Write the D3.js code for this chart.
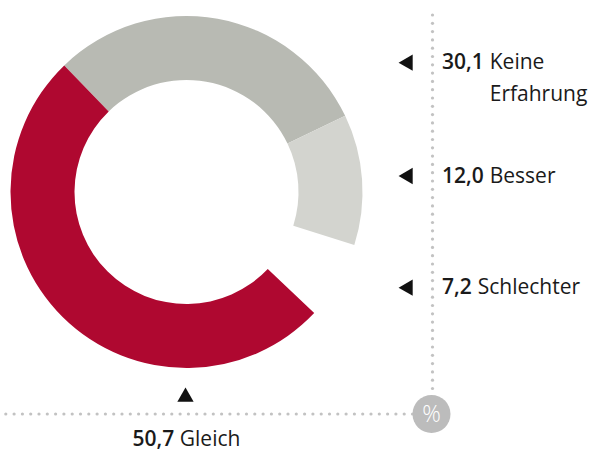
<!DOCTYPE html>
<html>
<head>
<meta charset="utf-8">
<script src="https://cdn.jsdelivr.net/npm/d3@7"></script>
<style>
  body { margin: 0; background: #fff; }
  svg { display: block; font-family: "Open Sans", sans-serif; }
</style>
</head>
<body>
<div id="graphic"></div>
<script>
// data
const categories = ["Keine Erfahrung", "Besser", "Schlechter", "Gleich"];
const values = [30.1, 12.0, 7.2, 50.7];
const valueLabels = ["30,1", "12,0", "7,2", "50,7"];
const labelLines = [["Keine", "Erfahrung"], ["Besser"], ["Schlechter"], ["Gleich"]];
const unitLabel = "%";

const colours = {
    "Keine Erfahrung": "#b8bab3",
    "Besser": "#d3d4cf",
    "Schlechter": "none",
    "Gleich": "#af0830"
};

const width = 592, height = 452;
const cx = 186.5, cy = 192;
const outerR = 176, innerR = 112;
const startDeg = -44;

const svg = d3.select('#graphic').append('svg')
    .attr('width', width)
    .attr('height', height);

const pie = d3.pie()
    .sort(null)
    .value((d) => d.value)
    .startAngle(startDeg * Math.PI / 180)
    .endAngle(startDeg * Math.PI / 180 + 2 * Math.PI);

const arc = d3.arc().innerRadius(innerR).outerRadius(outerR);

const data = categories.map((c, i) => ({ name: c, value: values[i], label: valueLabels[i], lines: labelLines[i] }));

svg.append('g')
    .attr('transform', `translate(${cx},${cy})`)
    .selectAll('path')
    .data(pie(data))
    .join('path')
    .attr('d', arc)
    .attr('fill', (d) => colours[d.data.name]);

// dotted axis lines
const axisX = 432.5, axisY = 414;
const dotGap = 8.3;
const dots = svg.append('g').attr('fill', '#c2c2c2');
dots.selectAll('circle.v')
    .data(d3.range(15, axisY - 18, dotGap))
    .join('circle')
    .attr('class', 'v')
    .attr('cx', axisX)
    .attr('cy', (d) => d)
    .attr('r', 1.6);
dots.selectAll('circle.h')
    .data(d3.range(axisX - 20, 4, -dotGap))
    .join('circle')
    .attr('class', 'h')
    .attr('cx', (d) => d)
    .attr('cy', axisY)
    .attr('r', 1.6);

// percent badge
svg.append('circle')
    .attr('cx', axisX - 1)
    .attr('cy', axisY)
    .attr('r', 19)
    .attr('fill', '#bcbcbc');
svg.append('text')
    .attr('x', axisX - 1)
    .attr('y', axisY + 8)
    .attr('text-anchor', 'middle')
    .attr('fill', '#fff')
    .style('font-size', '23px')
    .style('font-weight', 300)
    .text(unitLabel);

// right-hand labels
const rightLabelY = [61.7, 175, 286.7];
const lineHeight = 31.5;
const fontSize = 21;

data.slice(0, 3).forEach((d, i) => {
    const yc = rightLabelY[i];
    svg.append('path')
        .attr('d', d3.symbol(d3.symbolTriangle, 115)())
        .attr('transform', `translate(408,${yc + 1}) rotate(-90)`)
        .attr('fill', '#111');

    const num = svg.append('text')
        .attr('x', 442)
        .attr('y', yc + 7.5)
        .attr('fill', '#1a1a1a')
        .style('font-size', fontSize + 'px')
        .style('font-weight', 600)
        .text(d.label);
    const nameX = 442 + num.node().getComputedTextLength() + 6;
    d.lines.forEach((line, j) => {
        svg.append('text')
            .attr('x', nameX)
            .attr('y', yc + 7.5 + j * lineHeight)
            .attr('fill', '#1a1a1a')
            .style('font-size', fontSize + 'px')
            .text(line);
    });
});

// bottom label (Gleich)
const g = data[3];
svg.append('path')
    .attr('d', d3.symbol(d3.symbolTriangle, 115)())
    .attr('transform', `translate(${cx - 1},397)`)
    .attr('fill', '#111');

const bottom = svg.append('text')
    .attr('x', cx)
    .attr('y', 446)
    .attr('text-anchor', 'middle')
    .attr('fill', '#1a1a1a')
    .style('font-size', fontSize + 'px');
bottom.append('tspan').style('font-weight', 600).text(g.label);
bottom.append('tspan').text(' ' + g.lines[0]);
</script>
</body>
</html>
